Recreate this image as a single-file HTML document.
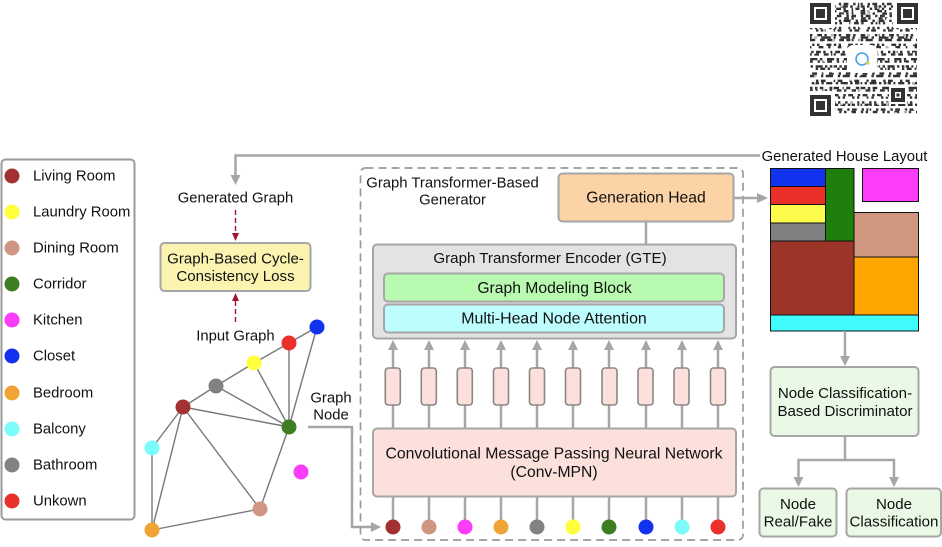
<!DOCTYPE html>
<html><head><meta charset="utf-8"><style>
html,body{margin:0;padding:0;background:#fff}
svg{display:block}
text{font-family:"Liberation Sans",Arial,sans-serif;font-size:14.85px;fill:#111;text-anchor:middle;dominant-baseline:central;transform:translateY(.7px)}
text.l{text-anchor:start}
text.m{font-size:15.1px}
text.g{font-size:15.7px}
.ln{stroke:#a6a6a6;stroke-width:2.5;fill:none}
.h{fill:#a6a6a6;stroke:none}
.b{stroke:#a6a6a6;stroke-width:2}
.e{stroke:#777;stroke-width:1.4}
.r{stroke:#111;stroke-width:1}
.q line{stroke:#333;stroke-width:2.4}
.w line{stroke:#fff;stroke-width:1.3}
</style></head><body>
<svg width="942" height="547" viewBox="0 0 942 547" xmlns="http://www.w3.org/2000/svg">
<defs><filter id="bl" x="-5%" y="-5%" width="110%" height="110%"><feGaussianBlur stdDeviation="0.35"/></filter></defs>
<rect width="942" height="547" fill="#fff"/>
<!-- QR -->
<g filter="url(#bl)">
<g class="q">
<line x1="810" x2="917" y1="4" y2="4" stroke-dasharray="2.4 2.4 4.8 4.8"/>
<line x1="810" x2="917" y1="6.4" y2="6.4" stroke-dasharray="7.2 2.4 2.4 4.8" stroke-dashoffset="3"/>
<line x1="810" x2="917" y1="8.8" y2="8.8" stroke-dasharray="2.4 4.8 2.4 2.4 4.8 2.4" stroke-dashoffset="5"/>
<line x1="810" x2="917" y1="11.2" y2="11.2" stroke-dasharray="4.8 2.4 2.4 7.2"/>
<line x1="810" x2="917" y1="13.6" y2="13.6" stroke-dasharray="2.4 2.4 2.4 7.2 4.8 2.4" stroke-dashoffset="7"/>
<line x1="810" x2="917" y1="16" y2="16" stroke-dasharray="4.8 4.8 2.4 2.4" stroke-dashoffset="2"/>
<line x1="810" x2="917" y1="18.4" y2="18.4" stroke-dasharray="2.4 7.2 4.8 2.4" stroke-dashoffset="9"/>
<line x1="810" x2="917" y1="20.8" y2="20.8" stroke-dasharray="7.2 4.8 2.4 2.4"/>
<line x1="810" x2="917" y1="23.2" y2="23.2" stroke-dasharray="2.4 2.4 4.8 2.4 2.4 7.2" stroke-dashoffset="4"/>
<line x1="810" x2="917" y1="28" y2="28" stroke-dasharray="2.4 2.4 2.4 2.4 2.4 7.2"/>
<line x1="810" x2="917" y1="30.4" y2="30.4" stroke-dasharray="4.8 7.2 2.4 2.4" stroke-dashoffset="6"/>
<line x1="810" x2="917" y1="35.2" y2="35.2" stroke-dasharray="2.4 4.8 4.8 2.4"/>
<line x1="810" x2="917" y1="37.6" y2="37.6" stroke-dasharray="9.6 2.4 2.4 4.8" stroke-dashoffset="8"/>
<line x1="810" x2="917" y1="40" y2="40" stroke-dasharray="7.2 4.8 4.8 2.4" stroke-dashoffset="2"/>
<line x1="810" x2="917" y1="44.8" y2="44.8" stroke-dasharray="4.8 2.4 2.4 2.4 2.4 7.2" stroke-dashoffset="5"/>
<line x1="810" x2="917" y1="47.2" y2="47.2" stroke-dasharray="2.4 7.2 4.8 4.8" stroke-dashoffset="1"/>
<line x1="810" x2="917" y1="52" y2="52" stroke-dasharray="2.4 4.8 2.4 2.4 4.8 2.4" stroke-dashoffset="6"/>
<line x1="810" x2="917" y1="54.4" y2="54.4" stroke-dasharray="4.8 2.4 4.8 4.8" stroke-dashoffset="3"/>
<line x1="810" x2="917" y1="59.2" y2="59.2" stroke-dasharray="2.4 4.8 7.2 2.4" stroke-dashoffset="7"/>
<line x1="810" x2="917" y1="61.6" y2="61.6" stroke-dasharray="4.8 4.8 2.4 2.4 2.4 2.4" stroke-dashoffset="2"/>
<line x1="810" x2="917" y1="66.4" y2="66.4" stroke-dasharray="7.2 2.4 2.4 2.4" stroke-dashoffset="9"/>
<line x1="810" x2="917" y1="68.8" y2="68.8" stroke-dasharray="2.4 7.2 2.4 2.4 4.8 2.4" stroke-dashoffset="4"/>
<line x1="810" x2="917" y1="73.6" y2="73.6" stroke-dasharray="2.4 4.8 4.8 4.8" stroke-dashoffset="5"/>
<line x1="810" x2="917" y1="76" y2="76" stroke-dasharray="7.2 4.8 2.4 2.4" stroke-dashoffset="1"/>
<line x1="810" x2="917" y1="80.8" y2="80.8" stroke-dasharray="4.8 7.2 2.4 2.4" stroke-dashoffset="6"/>
<line x1="810" x2="917" y1="83.2" y2="83.2" stroke-dasharray="2.4 2.4 7.2 2.4" stroke-dashoffset="3"/>
<line x1="810" x2="917" y1="88" y2="88" stroke-dasharray="9.6 2.4 2.4 2.4 4.8 4.8" stroke-dashoffset="7"/>
<line x1="810" x2="917" y1="90.4" y2="90.4" stroke-dasharray="4.8 2.4 2.4 4.8" stroke-dashoffset="2"/>
<line x1="810" x2="917" y1="95.2" y2="95.2" stroke-dasharray="4.8 4.8 2.4 2.4" stroke-dashoffset="5"/>
<line x1="810" x2="917" y1="97.6" y2="97.6" stroke-dasharray="2.4 2.4 2.4 7.2" stroke-dashoffset="1"/>
<line x1="810" x2="917" y1="102.4" y2="102.4" stroke-dasharray="2.4 4.8 2.4 2.4" stroke-dashoffset="8"/>
<line x1="810" x2="917" y1="104.8" y2="104.8" stroke-dasharray="4.8 2.4 7.2 2.4" stroke-dashoffset="3"/>
<line x1="810" x2="917" y1="109.6" y2="109.6" stroke-dasharray="2.4 2.4 4.8 4.8" stroke-dashoffset="6"/>
<line x1="810" x2="917" y1="112" y2="112" stroke-dasharray="4.8 4.8 2.4 2.4 2.4 4.8" stroke-dashoffset="2"/>
</g>
<g class="w">
<line x1="815" x2="815" y1="0" y2="118" stroke-dasharray="9 6"/><line x1="824" x2="824" y1="0" y2="118" stroke-dasharray="6 9" stroke-dashoffset="4"/>
<line x1="833" x2="833" y1="0" y2="118" stroke-dasharray="11 5" stroke-dashoffset="2"/><line x1="842" x2="842" y1="0" y2="118" stroke-dasharray="7 7"/>
<line x1="851" x2="851" y1="0" y2="118" stroke-dasharray="8 5" stroke-dashoffset="5"/><line x1="860" x2="860" y1="0" y2="118" stroke-dasharray="12 4"/>
<line x1="869" x2="869" y1="0" y2="118" stroke-dasharray="6 6" stroke-dashoffset="3"/><line x1="878" x2="878" y1="0" y2="118" stroke-dasharray="9 7"/>
<line x1="887" x2="887" y1="0" y2="118" stroke-dasharray="7 5" stroke-dashoffset="6"/><line x1="896" x2="896" y1="0" y2="118" stroke-dasharray="10 6"/>
<line x1="905" x2="905" y1="0" y2="118" stroke-dasharray="8 8" stroke-dashoffset="2"/><line x1="914" x2="914" y1="0" y2="118" stroke-dasharray="6 7"/>
</g>
<rect x="808" y="1" width="27" height="27" fill="#fff"/>
<rect x="893" y="1" width="26" height="27" fill="#fff"/>
<rect x="808" y="91" width="27" height="26" fill="#fff"/>
<rect x="889" y="86" width="18" height="18" fill="#fff"/>
<rect x="847" y="45" width="30" height="28" rx="6" fill="#fff"/>
<g fill="none" stroke="#333" stroke-width="4">
<rect x="812" y="5" width="17" height="17"/>
<rect x="899" y="5" width="17" height="17"/>
<rect x="812" y="97" width="17" height="17"/>
<rect x="893" y="90" width="10" height="10"/>
</g>
<g fill="#333">
<rect x="816" y="9" width="9" height="9"/><rect x="903" y="9" width="9" height="9"/>
<rect x="816" y="101" width="9" height="9"/><rect x="896.500" y="93.500" width="3" height="3"/>
</g>
<circle cx="862" cy="59" r="6" fill="none" stroke="#4aa3e8" stroke-width="1.600"/>
<circle cx="868" cy="63" r="1.800" fill="#e8d35a"/>
</g>

<!-- Legend -->
<rect x="1.500" y="159.500" width="133" height="360" rx="4" fill="#fff" stroke="#9a9a9a" stroke-width="2"/>
<g>
<circle cx="12" cy="176" r="7.500" fill="#a23232"/><text class="l" x="33" y="176">Living Room</text>
<circle cx="12" cy="212" r="7.500" fill="#ffff3c"/><text class="l" x="33" y="212">Laundry Room</text>
<circle cx="12" cy="248" r="7.500" fill="#cf9682"/><text class="l" x="33" y="248">Dining Room</text>
<circle cx="12" cy="284" r="7.500" fill="#3f7d22"/><text class="l" x="33" y="284">Corridor</text>
<circle cx="12" cy="320" r="7.500" fill="#fb3cf8"/><text class="l" x="33" y="320">Kitchen</text>
<circle cx="12" cy="356" r="7.500" fill="#1132ee"/><text class="l" x="33" y="356">Closet</text>
<circle cx="12" cy="393" r="7.500" fill="#f0a436"/><text class="l" x="33" y="393">Bedroom</text>
<circle cx="12" cy="429" r="7.500" fill="#7cfbfb"/><text class="l" x="33" y="429">Balcony</text>
<circle cx="12" cy="465" r="7.500" fill="#828282"/><text class="l" x="33" y="465">Bathroom</text>
<circle cx="12" cy="501" r="7.500" fill="#e9302a"/><text class="l" x="33" y="501">Unkown</text>
</g>

<!-- Top feedback arrow -->
<path class="ln" d="M760 155.500H235.500V177"/>
<path class="h" d="M230.500 175h10l-5 10z"/>
<text x="235.500" y="198">Generated Graph</text>
<line x1="235.500" y1="210" x2="235.500" y2="233" stroke="#a51234" stroke-width="1.400" stroke-dasharray="5 3"/>
<path d="M232 233h7l-3.500 8z" fill="#a51234"/>
<rect x="160.500" y="243" width="150" height="48" rx="4" fill="#fbf3b0" class="b"/>
<text class="m" x="235.500" y="258.500">Graph-Based Cycle-</text>
<text class="m" x="235.500" y="276">Consistency Loss</text>
<path d="M232 301h7l-3.500-8z" fill="#a51234"/>
<line x1="235.500" y1="301" x2="235.500" y2="324" stroke="#a51234" stroke-width="1.400" stroke-dasharray="5 3"/>
<text x="235.500" y="336">Input Graph</text>

<!-- Graph edges -->
<g class="e">
<line x1="317" y1="327" x2="289" y2="343"/>
<line x1="289" y1="343" x2="254" y2="363"/>
<line x1="254" y1="363" x2="216" y2="386"/>
<line x1="216" y1="386" x2="183" y2="407"/>
<line x1="183" y1="407" x2="152" y2="448"/>
<line x1="183" y1="407" x2="152" y2="530"/>
<line x1="152" y1="448" x2="152" y2="530"/>
<line x1="152" y1="530" x2="260" y2="509"/>
<line x1="260" y1="509" x2="183" y2="407"/>
<line x1="260" y1="509" x2="289" y2="427"/>
<line x1="289" y1="427" x2="183" y2="407"/>
<line x1="289" y1="427" x2="216" y2="386"/>
<line x1="289" y1="427" x2="254" y2="363"/>
<line x1="289" y1="427" x2="289" y2="343"/>
<line x1="289" y1="427" x2="317" y2="327"/>
</g>
<circle cx="317" cy="327" r="7.500" fill="#1132ee"/>
<circle cx="289" cy="343" r="7.500" fill="#e9302a"/>
<circle cx="254" cy="363" r="7.500" fill="#ffff3c"/>
<circle cx="216" cy="386" r="7.500" fill="#828282"/>
<circle cx="183" cy="407" r="7.500" fill="#a23232"/>
<circle cx="289" cy="427" r="7.500" fill="#3f7d22"/>
<circle cx="152" cy="448" r="7.500" fill="#7cfbfb"/>
<circle cx="152" cy="530" r="7.500" fill="#f0a436"/>
<circle cx="260" cy="509" r="7.500" fill="#cf9682"/>
<circle cx="301" cy="472" r="7.500" fill="#fb3cf8"/>
<text x="331" y="398">Graph</text>
<text x="331" y="415">Node</text>
<path class="ln" d="M308 427H352V527H372"/>
<path class="h" d="M371 522v10l10-5z"/>

<!-- Dashed container -->
<rect x="360.500" y="168" width="382.500" height="372" rx="5" fill="none" stroke="#9a9a9a" stroke-width="1.700" stroke-dasharray="8 5"/>
<text x="452.500" y="183">Graph Transformer-Based</text>
<text x="452.500" y="200">Generator</text>

<!-- Generation head -->
<line class="ln" x1="646" y1="221" x2="646" y2="244"/>
<rect x="558.500" y="173.500" width="175" height="48" rx="4" fill="#fbd3a6" class="b"/>
<text class="g" x="646" y="197.500">Generation Head</text>
<line class="ln" x1="734" y1="198" x2="759" y2="198"/>
<path class="h" d="M757 193v10l11-5z"/>

<!-- GTE -->
<rect x="373" y="244.500" width="363" height="94" rx="4" fill="#e3e3e3" class="b"/>
<text class="m" x="550" y="258">Graph Transformer Encoder (GTE)</text>
<rect x="384" y="273.500" width="340" height="28" rx="4" fill="#b8fbb0" class="b"/>
<text class="g" x="554.500" y="288">Graph Modeling Block</text>
<rect x="384" y="304.500" width="340" height="28" rx="4" fill="#bdfdfd" class="b"/>
<text class="g" x="554" y="318.500" style="font-size:15.9px">Multi-Head Node Attention</text>

<!-- Middle columns -->
<g class="ln">
<path d="M393 527V347"/><path d="M429 527V347"/><path d="M465 527V347"/><path d="M501 527V347"/><path d="M537 527V347"/>
<path d="M573 527V347"/><path d="M609 527V347"/><path d="M646 527V347"/><path d="M682 527V347"/><path d="M718 527V347"/>
</g>
<g class="h">
<path d="M388 350h10l-5-10z"/><path d="M424 350h10l-5-10z"/><path d="M460 350h10l-5-10z"/><path d="M496 350h10l-5-10z"/><path d="M532 350h10l-5-10z"/>
<path d="M568 350h10l-5-10z"/><path d="M604 350h10l-5-10z"/><path d="M641 350h10l-5-10z"/><path d="M677 350h10l-5-10z"/><path d="M713 350h10l-5-10z"/>
</g>
<g fill="#fbe0dc" stroke="#8c8686" stroke-width="1.600">
<rect x="385.300" y="368" width="15" height="37" rx="3"/>
<rect x="421.300" y="368" width="15" height="37" rx="3"/>
<rect x="457.300" y="368" width="15" height="37" rx="3"/>
<rect x="493.500" y="368" width="15" height="37" rx="3"/>
<rect x="529.500" y="368" width="15" height="37" rx="3"/>
<rect x="565.500" y="368" width="15" height="37" rx="3"/>
<rect x="602" y="368" width="15" height="37" rx="3"/>
<rect x="638" y="368" width="15" height="37" rx="3"/>
<rect x="674" y="368" width="15" height="37" rx="3"/>
<rect x="710.500" y="368" width="15" height="37" rx="3"/>
</g>
<rect x="373" y="428.500" width="363" height="68" rx="4" fill="#fbe0dc" class="b"/>
<text class="g" x="554" y="453.500" style="font-size:15.75px">Convolutional Message Passing Neural Network</text>
<text class="g" x="554" y="472">(Conv-MPN)</text>
<circle cx="393" cy="527" r="7.500" fill="#a23232"/>
<circle cx="429" cy="527" r="7.500" fill="#cf9682"/>
<circle cx="465" cy="527" r="7.500" fill="#fb3cf8"/>
<circle cx="501" cy="527" r="7.500" fill="#f0a436"/>
<circle cx="537" cy="527" r="7.500" fill="#828282"/>
<circle cx="573" cy="527" r="7.500" fill="#ffff3c"/>
<circle cx="609" cy="527" r="7.500" fill="#3f7d22"/>
<circle cx="646" cy="527" r="7.500" fill="#1132ee"/>
<circle cx="682" cy="527" r="7.500" fill="#7cfbfb"/>
<circle cx="718" cy="527" r="7.500" fill="#e9302a"/>

<!-- House layout -->
<text x="844.500" y="156.500">Generated House Layout</text>
<g class="r">
<rect x="770.500" y="168.500" width="55" height="18" fill="#1133ee"/>
<rect x="770.500" y="186.500" width="55" height="18" fill="#ea3028"/>
<rect x="770.500" y="204.500" width="55" height="18.500" fill="#fdfb4c"/>
<rect x="770.500" y="223" width="55" height="18" fill="#808080"/>
<rect x="825.500" y="168.500" width="28.500" height="72.500" fill="#1f7f0c"/>
<rect x="862.500" y="168.500" width="56" height="33" fill="#fb3cf8"/>
<rect x="854" y="212.500" width="64.500" height="44.500" fill="#cf9680"/>
<rect x="770.500" y="241" width="83.500" height="74" fill="#9c3528"/>
<rect x="854" y="257" width="64.500" height="58" fill="#ffa500"/>
<rect x="770.500" y="315" width="148" height="16" fill="#3ffbfb"/>
</g>

<!-- Discriminator -->
<line class="ln" x1="845" y1="331" x2="845" y2="358"/>
<path class="h" d="M840 356h10l-5 10z"/>
<rect x="770.500" y="367" width="148" height="69" rx="4" fill="#e9f9e5" class="b"/>
<text class="m" x="845" y="393">Node Classification-</text>
<text class="m" x="845" y="411">Based Discriminator</text>
<path class="ln" d="M845 436V460M798.500 479V460H894V479"/>
<path class="h" d="M793.500 477h10l-5 10zM889 477h10l-5 10z"/>
<rect x="759.500" y="488.500" width="77" height="48" rx="4" fill="#e9f9e5" class="b"/>
<text class="m" x="798" y="504">Node</text>
<text class="m" x="798" y="521.500">Real/Fake</text>
<rect x="846.500" y="488.500" width="94.500" height="48" rx="4" fill="#e9f9e5" class="b"/>
<text class="m" x="894" y="504">Node</text>
<text class="m" x="894" y="521.500">Classification</text>
</svg>
</body></html>
